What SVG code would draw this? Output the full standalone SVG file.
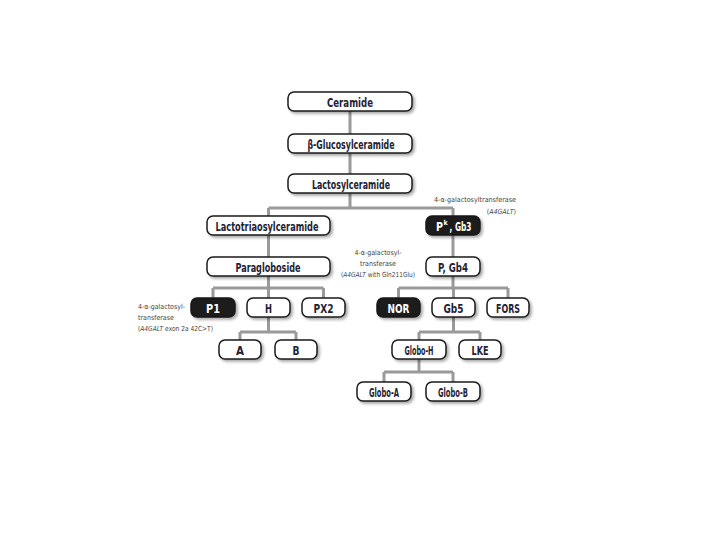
<svg xmlns="http://www.w3.org/2000/svg" width="720" height="540" viewBox="0 0 720 540">
<defs>
<filter id="sh" x="-20%" y="-30%" width="150%" height="180%">
<feDropShadow dx="2" dy="2" stdDeviation="1.5" flood-color="#000" flood-opacity="0.35"/>
</filter>
</defs>
<style>
.box{fill:#fff;stroke:#1a1a1a;stroke-width:1.5;filter:url(#sh)}
.dark{fill:#1a1a1a;stroke:#1a1a1a;stroke-width:1.5;filter:url(#sh)}
.t{font-family:"DejaVu Sans Condensed","Liberation Sans",sans-serif;font-size:13px;font-weight:bold;fill:#1e2235;text-anchor:middle}
.tw{font-family:"DejaVu Sans Condensed","Liberation Sans",sans-serif;font-size:13px;font-weight:bold;fill:#fff;text-anchor:middle}
.sup{font-size:7px}
.n{font-family:"DejaVu Sans Condensed","Liberation Sans",sans-serif;font-size:7px;fill:#444}
.c{stroke:#9a9a9a;stroke-width:3;fill:none}
</style>
<rect width="720" height="540" fill="#fff"/>
<g id="connectors">
<path class="c" d="M350 111V134M350 153V174M350 193V208M268.5 208H453M268.5 208V216M453 208V216M268.5 235V257M453 235V257"/>
<path class="c" d="M268.5 276V288M213 288H323.5M213 288V298M268.5 288V298M323.5 288V298"/>
<path class="c" d="M453 276V288M398.5 288H508M398.5 288V298M453.5 288V298M508 288V298"/>
<path class="c" d="M268.5 317V332M240 332H296M240 332V340M296 332V340"/>
<path class="c" d="M453.5 317V332M419 332H480M419 332V340M480 332V340"/>
<path class="c" d="M419 359V372M384 372H453M384 372V382M453 372V382"/>
</g>
<g id="ceramide"><rect class="box" x="288" y="92" width="124" height="19" rx="6"/><text class="t" x="350" y="106.5" textLength="46" lengthAdjust="spacingAndGlyphs">Ceramide</text></g>
<g id="glucosylceramide"><rect class="box" x="288" y="134" width="124" height="19" rx="6"/><text class="t" x="351" y="148.5" textLength="87" lengthAdjust="spacingAndGlyphs">β-Glucosylceramide</text></g>
<g id="lactosylceramide"><rect class="box" x="288" y="174" width="124" height="19" rx="6"/><text class="t" x="351" y="188.5" textLength="78" lengthAdjust="spacingAndGlyphs">Lactosylceramide</text></g>
<g id="lactotriaosylceramide"><rect class="box" x="207" y="216" width="123" height="19" rx="6"/><text class="t" x="267" y="230.5" textLength="103" lengthAdjust="spacingAndGlyphs">Lactotriaosylceramide</text></g>
<g id="paragloboside"><rect class="box" x="207" y="257" width="123" height="19" rx="6"/><text class="t" x="268" y="271.5" textLength="65" lengthAdjust="spacingAndGlyphs">Paragloboside</text></g>
<g id="pk-gb3"><rect class="dark" x="426" y="216" width="54" height="19" rx="6"/><text class="tw" x="439.5" y="230.5" textLength="7" lengthAdjust="spacingAndGlyphs">P</text><text class="tw sup" x="445.5" y="225">k</text><text class="tw" x="460.5" y="230.5" textLength="22" lengthAdjust="spacingAndGlyphs">, Gb3</text></g>
<g id="p-gb4"><rect class="box" x="426" y="257" width="54" height="19" rx="6"/><text class="t" x="453" y="271.5" textLength="30" lengthAdjust="spacingAndGlyphs">P, Gb4</text></g>
<g id="p1"><rect class="dark" x="191" y="298" width="44" height="19" rx="6"/><text class="tw" x="213" y="312.5" textLength="14" lengthAdjust="spacingAndGlyphs">P1</text></g>
<g id="h"><rect class="box" x="247" y="298" width="43" height="19" rx="6"/><text class="t" x="268.5" y="312.5" textLength="7" lengthAdjust="spacingAndGlyphs">H</text></g>
<g id="px2"><rect class="box" x="302" y="298" width="43" height="19" rx="6"/><text class="t" x="323.5" y="312.5" textLength="20" lengthAdjust="spacingAndGlyphs">PX2</text></g>
<g id="a"><rect class="box" x="219" y="340" width="42" height="19" rx="6"/><text class="t" x="240" y="354.5" textLength="8" lengthAdjust="spacingAndGlyphs">A</text></g>
<g id="b"><rect class="box" x="275" y="340" width="42" height="19" rx="6"/><text class="t" x="296" y="354.5" textLength="7" lengthAdjust="spacingAndGlyphs">B</text></g>
<g id="nor"><rect class="dark" x="377" y="298" width="43" height="19" rx="6"/><text class="tw" x="398.5" y="312.5" textLength="22" lengthAdjust="spacingAndGlyphs">NOR</text></g>
<g id="gb5"><rect class="box" x="432" y="298" width="43" height="19" rx="6"/><text class="t" x="453.5" y="312.5" textLength="20" lengthAdjust="spacingAndGlyphs">Gb5</text></g>
<g id="fors"><rect class="box" x="487" y="298" width="42" height="19" rx="6"/><text class="t" x="508" y="312.5" textLength="24" lengthAdjust="spacingAndGlyphs">FORS</text></g>
<g id="globo-h"><rect class="box" x="392" y="340" width="54" height="19" rx="6"/><text class="t" x="419" y="354.5" textLength="29" lengthAdjust="spacingAndGlyphs">Globo-H</text></g>
<g id="lke"><rect class="box" x="459" y="340" width="42" height="19" rx="6"/><text class="t" x="480" y="354.5" textLength="17" lengthAdjust="spacingAndGlyphs">LKE</text></g>
<g id="globo-a"><rect class="box" x="357" y="382" width="54" height="19" rx="6"/><text class="t" x="384" y="396.5" textLength="30" lengthAdjust="spacingAndGlyphs">Globo-A</text></g>
<g id="globo-b"><rect class="box" x="426" y="382" width="54" height="19" rx="6"/><text class="t" x="453" y="396.5" textLength="30" lengthAdjust="spacingAndGlyphs">Globo-B</text></g>
<g id="notes">
<text class="n" x="516" y="202" text-anchor="end" textLength="82" lengthAdjust="spacingAndGlyphs">4-α-galactosyltransferase</text>
<text class="n" x="516" y="214" text-anchor="end">(<tspan font-style="italic">A4GALT</tspan>)</text>
<text class="n" x="378" y="255" text-anchor="middle">4-α-galactosyl-</text>
<text class="n" x="378" y="266" text-anchor="middle">transferase</text>
<text class="n" x="378" y="277" text-anchor="middle" textLength="74" lengthAdjust="spacingAndGlyphs">(<tspan font-style="italic">A4GALT</tspan> with Gln211Glu)</text>
<text class="n" x="138" y="309">4-α-galactosyl-</text>
<text class="n" x="138" y="320">transferase</text>
<text class="n" x="138" y="331" textLength="75" lengthAdjust="spacingAndGlyphs">(<tspan font-style="italic">A4GALT</tspan> exon 2a 42C&gt;T)</text>
</g>
</svg>
